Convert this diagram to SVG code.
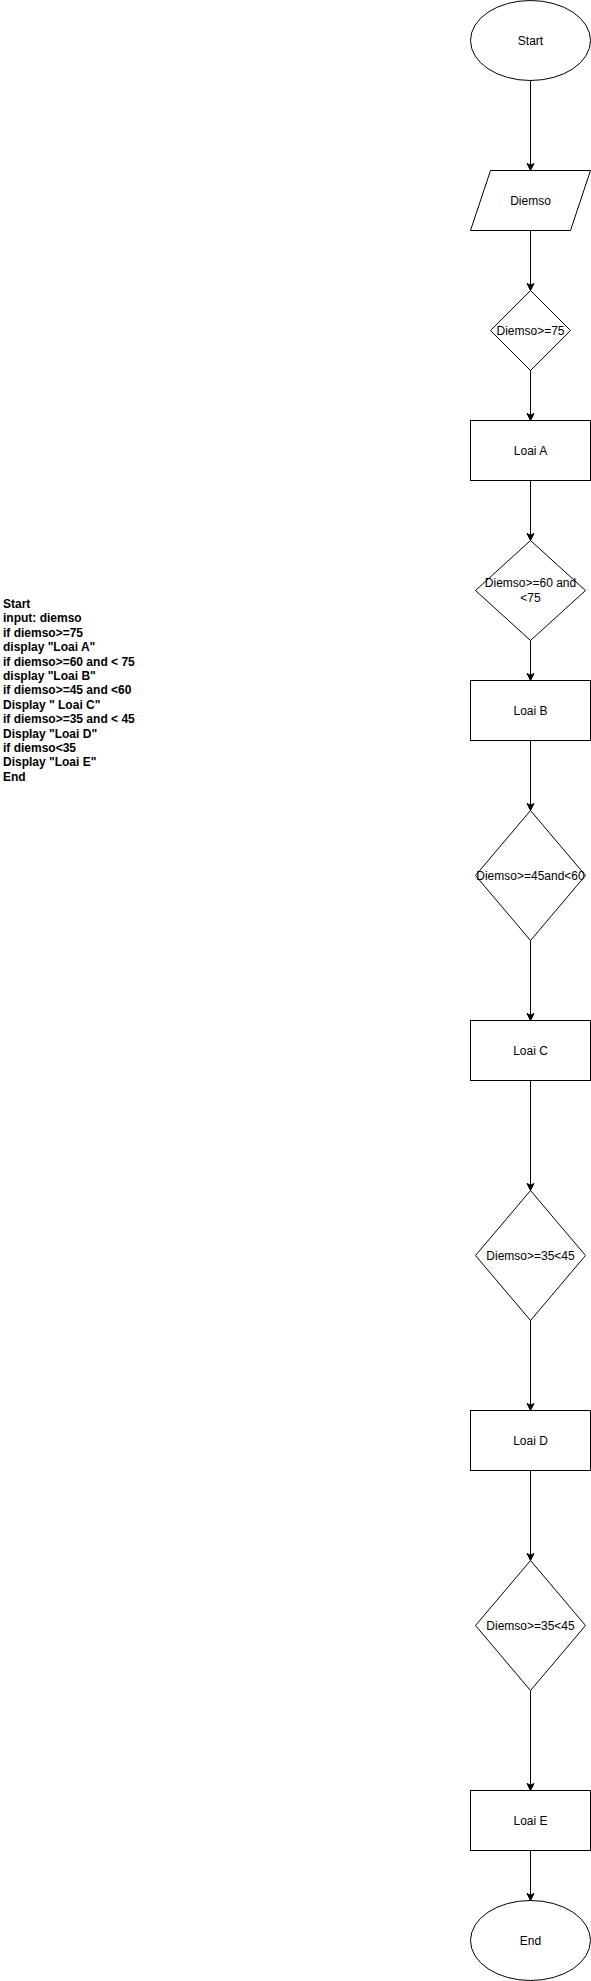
<svg xmlns="http://www.w3.org/2000/svg" width="591" height="1981" viewBox="0 0 591 1981">
<style>
.s{fill:#fff;stroke:#000;stroke-width:1}
.t{font-family:"Liberation Sans",Arial,sans-serif;font-size:12px;fill:#000;text-anchor:middle}
.e{fill:none;stroke:#000;stroke-width:1}
.code{font-family:"Liberation Sans",Arial,sans-serif;font-size:12px;font-weight:bold;fill:#000}
</style>
<defs>
<marker id="arr" markerUnits="userSpaceOnUse" markerWidth="10" markerHeight="10" refX="8" refY="5" orient="auto">
<path d="M1,1.5 L8,5 L1,8.5 L2.75,5 Z" fill="#000" stroke="#000" stroke-width="1"/>
</marker>
</defs>
<rect width="591" height="1981" fill="#fff"/>
<g transform="translate(0.5,0.5)">
<g id="connectors">
<path class="e" d="M530,80 L530,170" marker-end="url(#arr)"/>
<path class="e" d="M530,230 L530,290" marker-end="url(#arr)"/>
<path class="e" d="M530,370 L530,420" marker-end="url(#arr)"/>
<path class="e" d="M530,480 L530,540" marker-end="url(#arr)"/>
<path class="e" d="M530,640 L530,680" marker-end="url(#arr)"/>
<path class="e" d="M530,740 L530,810" marker-end="url(#arr)"/>
<path class="e" d="M530,940 L530,1020" marker-end="url(#arr)"/>
<path class="e" d="M530,1080 L530,1190" marker-end="url(#arr)"/>
<path class="e" d="M530,1320 L530,1410" marker-end="url(#arr)"/>
<path class="e" d="M530,1470 L530,1560" marker-end="url(#arr)"/>
<path class="e" d="M530,1690 L530,1790" marker-end="url(#arr)"/>
<path class="e" d="M530,1850 L530,1900" marker-end="url(#arr)"/>
</g>
<g id="start"><ellipse class="s" cx="530" cy="40" rx="60" ry="40"/><text class="t" x="530" y="44">Start</text></g>
<g id="input"><polygon class="s" points="490,170 590,170 570,230 470,230"/><text class="t" x="530" y="204">Diemso</text></g>
<g id="cond1"><polygon class="s" points="530,290 570,330 530,370 490,330"/><text class="t" x="530" y="334">Diemso&gt;=75</text></g>
<g id="loaiA"><rect class="s" x="470" y="420" width="120" height="60"/><text class="t" x="530" y="454">Loai A</text></g>
<g id="cond2"><polygon class="s" points="530,540 585,590 530,640 475,590"/><text class="t" x="530" y="586">Diemso&gt;=60 and</text><text class="t" x="530" y="601">&lt;75</text></g>
<g id="loaiB"><rect class="s" x="470" y="680" width="120" height="60"/><text class="t" x="530" y="714">Loai B</text></g>
<g id="cond3"><polygon class="s" points="530,810 585,875 530,940 475,875"/><text class="t" x="530" y="879">Diemso&gt;=45and&lt;60</text></g>
<g id="loaiC"><rect class="s" x="470" y="1020" width="120" height="60"/><text class="t" x="530" y="1054">Loai C</text></g>
<g id="cond4"><polygon class="s" points="530,1190 585,1255 530,1320 475,1255"/><text class="t" x="530" y="1259">Diemso&gt;=35&lt;45</text></g>
<g id="loaiD"><rect class="s" x="470" y="1410" width="120" height="60"/><text class="t" x="530" y="1444">Loai D</text></g>
<g id="cond5"><polygon class="s" points="530,1560 585,1625 530,1690 475,1625"/><text class="t" x="530" y="1629">Diemso&gt;=35&lt;45</text></g>
<g id="loaiE"><rect class="s" x="470" y="1790" width="120" height="60"/><text class="t" x="530" y="1824">Loai E</text></g>
<g id="end"><ellipse class="s" cx="530" cy="1940" rx="60" ry="40"/><text class="t" x="530" y="1944">End</text></g>
</g>
<g id="pseudocode">
<text class="code" x="3" y="608">
<tspan x="3" y="608">Start</tspan>
<tspan x="3" dy="14.4">input: diemso</tspan>
<tspan x="3" dy="14.4">if diemso&gt;=75</tspan>
<tspan x="3" dy="14.4">display "Loai A"</tspan>
<tspan x="3" dy="14.4">if diemso&gt;=60 and &lt; 75</tspan>
<tspan x="3" dy="14.4">display "Loai B"</tspan>
<tspan x="3" dy="14.4">if diemso&gt;=45 and &lt;60</tspan>
<tspan x="3" dy="14.4">Display " Loai C"</tspan>
<tspan x="3" dy="14.4">if diemso&gt;=35 and &lt; 45</tspan>
<tspan x="3" dy="14.4">Display "Loai D"</tspan>
<tspan x="3" dy="14.4">if diemso&lt;35</tspan>
<tspan x="3" dy="14.4">Display "Loai E"</tspan>
<tspan x="3" dy="14.4">End</tspan>
</text>
</g>
</svg>
